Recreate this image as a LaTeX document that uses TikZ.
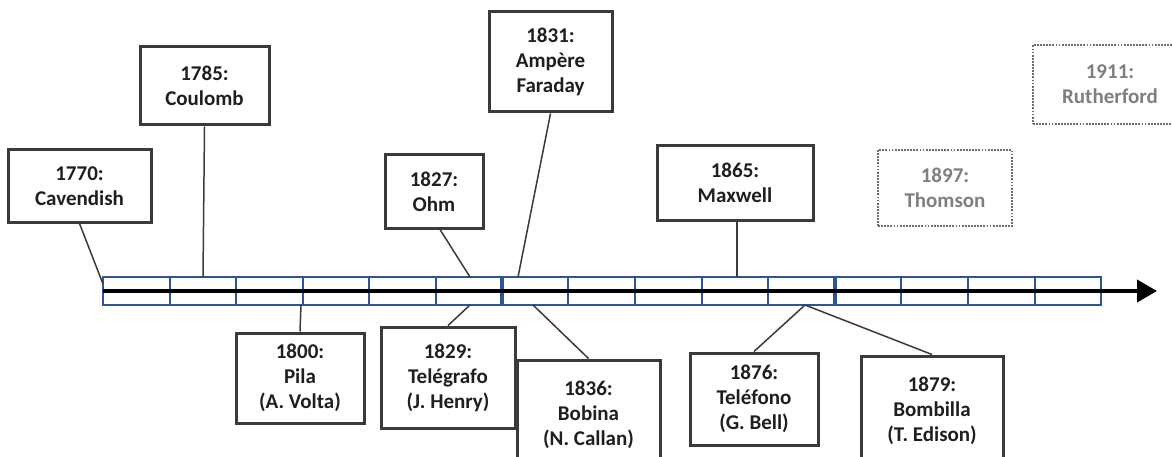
\documentclass[tikz,border=0pt]{standalone}
\usepackage{fontspec}
\setmainfont{Carlito}
\usetikzlibrary{arrows.meta,calc}
\definecolor{boxline}{HTML}{3A3A3A}
\definecolor{tlblue}{HTML}{2F5597}
\definecolor{txt}{HTML}{1F1F1F}
\definecolor{faded}{HTML}{7F7F7F}
\definecolor{fadedline}{HTML}{6E6E6E}
\tikzset{
  evbox/.style={draw=boxline, line width=3pt, fill=white, text=txt, align=center,
    font=\fontsize{21}{25}\selectfont\bfseries, inner sep=0pt},
  futbox/.style={draw=fadedline, line width=2.8pt, dash pattern=on 1.8pt off 1.3pt, fill=white, text=faded, align=center,
    font=\fontsize{21}{25}\selectfont\bfseries, inner sep=0pt},
  conn/.style={draw=boxline, line width=1.5pt},
  cell/.style={draw=tlblue, line width=2.2pt},
}
\begin{document}
\begin{tikzpicture}[x=1pt,y=-1pt]
\clip (0,0) rectangle (1172,457);
\useasboundingbox (0,0) rectangle (1172,457);
% timeline cells
\draw[cell, fill=white] (103,277) rectangle (1101,305);
\foreach \x in {170,236,303,369,436,568,635,702,768,901,968,1035}
  \draw[cell] (\x,277) -- (\x,305);
\foreach \x in {502,835}
  \draw[cell, line width=3.8pt] (\x,277) -- (\x,305);
% axis arrow
\coordinate (tl) at (103,291);
\coordinate (tr) at (1157,291);
\draw[line width=3.8pt, -{Triangle[length=20pt,width=22pt]}] (tl) -- (tr);
% anchor points on the timeline
\coordinate (p1770) at (103,284);
\coordinate (p1785) at (203,277);
\coordinate (p1800) at (301,305);
\coordinate (p1827) at (470,277);
\coordinate (p1829) at (470,305);
\coordinate (p1831) at (518,277);
\coordinate (p1836) at (533,305);
\coordinate (p1865) at (737,277);
\coordinate (p1876) at (805,305);
% event boxes
\node[evbox, minimum width=143pt, minimum height=72pt] (cav) at (79.5,186) {1770:\\Cavendish};
\node[evbox, minimum width=129pt, minimum height=78pt] (cou) at (204.5,86) {1785:\\Coulomb};
\node[evbox, minimum width=128pt, minimum height=90pt] (pila) at (300,378) {1800:\\Pila\\(A. Volta)};
\node[evbox, minimum width=98pt, minimum height=73pt] (ohm) at (434,191.5) {1827:\\Ohm};
\node[evbox, minimum width=134pt, minimum height=101pt] (tel) at (448,377.5) {1829:\\Telégrafo\\(J. Henry)};
\node[evbox, minimum width=123pt, minimum height=100pt] (amp) at (550.5,62) {1831:\\Ampère\\Faraday};
\node[evbox, minimum width=143pt, minimum height=110pt] (bob) at (588.5,415) {1836:\\Bobina\\(N. Callan)};
\node[evbox, minimum width=156pt, minimum height=74pt] (max) at (735,183) {1865:\\Maxwell};
\node[evbox, minimum width=128pt, minimum height=92pt] (tlf) at (754,399) {1876:\\Teléfono\\(G. Bell)};
\node[evbox, minimum width=142pt, minimum height=110pt] (bom) at (932,411) {1879:\\Bombilla\\(T. Edison)};
\node[futbox, minimum width=134pt, minimum height=76pt] (tho) at (945,188) {1897:\\Thomson};
\node[futbox, minimum width=154pt, minimum height=79pt] (rut) at (1110,84.5) {1911:\\Rutherford};
% connectors
\draw[conn] (cav.south) -- (p1770);
\draw[conn] (cou.south) -- (p1785);
\draw[conn] (pila.north) -- (p1800);
\draw[conn] ($(ohm.south)+(6,0)$) -- (p1827);
\draw[conn] (tel.north) -- (p1829);
\draw[conn] (amp.south) -- (p1831);
\draw[conn] (bob.north) -- (p1836);
\draw[conn] ($(max.south)+(2,0)$) -- (p1865);
\draw[conn] (tlf.north) -- (p1876);
\draw[conn] (bom.north) -- (p1876);
\end{tikzpicture}
\end{document}
